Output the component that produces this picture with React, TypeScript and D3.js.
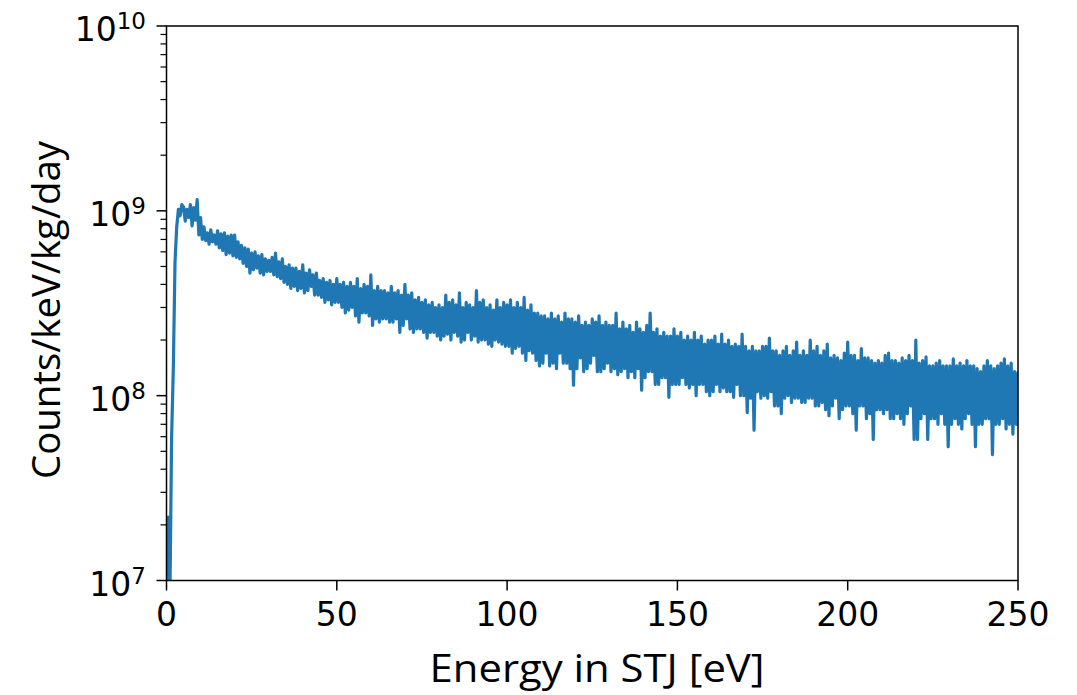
import React from "react";
import * as d3 from "d3";

// Rising edge of the spectrum (energy in eV, counts in units of 1e8)
const riseEnergy = [0, 0.5, 1, 1.5, 2, 2.5, 3, 3.5, 4, 4.5];
const riseCounts = [0.05, 0.22, 0.08, 0.6, 1.4, 5.3, 8.2, 10.2, 9.4, 10.8];

// Spectrum, bins at whole eV from 5 to 250 (upper side of the noisy band, units of 1e8)
const binStart = 5;
const binEnd = 250;
const upperCounts = [
  10.5, 10.2, 10.8, 10.4, 11.5,
  9.2, 8.2, 7.6, 7.9, 7.4, 7.8, 7.5, 7.6, 7.3, 7.4,
  7.4, 6.8, 6.5, 6.3, 6.2, 5.9, 6.0, 5.7, 5.8, 5.5,
  5.4, 5.6, 5.9, 5.3, 5.5, 5.0, 5.1, 4.9, 4.9, 4.7,
  5.1, 4.6, 4.8, 4.5, 4.6, 4.2, 4.3, 4.1, 4.2, 4.0,
  4.3, 4.0, 4.1, 3.9, 4.1, 3.9, 4.3, 3.8, 4.0, 3.9,
  4.5, 3.7, 3.9, 3.7, 3.7, 3.6, 3.9, 3.6, 3.7, 3.5,
  4.0, 3.5, 3.6, 3.3, 3.4, 3.2, 3.3, 3.1, 3.2, 3.0,
  3.1, 3.0, 3.5, 3.2, 3.3, 3.1, 3.6, 3.0, 3.2, 3.1,
  3.0, 3.7, 3.2, 3.3, 3.0, 3.1, 2.9, 3.3, 3.0, 3.2,
  3.1, 3.3, 3.0, 3.2, 3.0, 3.4, 2.9, 3.1, 2.8, 2.8,
  2.7, 2.7, 2.6, 2.8, 2.6, 2.7, 2.5, 2.8, 2.6, 2.6,
  2.5, 2.7, 2.4, 2.5, 2.4, 2.6, 2.5, 2.7, 2.4, 2.5,
  2.4, 2.4, 2.8, 2.3, 2.5, 2.3, 2.4, 2.2, 2.5, 2.3,
  2.2, 2.4, 2.8, 2.2, 2.3, 2.1, 2.2, 2.1, 2.1, 2.3,
  2.1, 2.2, 2.0, 2.1, 2.0, 2.2, 2.0, 2.1, 1.9, 2.0,
  2.0, 2.1, 1.9, 2.15, 1.9, 2.0, 1.85, 1.9, 1.85, 2.15,
  1.85, 1.75, 1.85, 1.75, 1.75, 1.85, 1.85, 2.05, 1.75, 1.75,
  1.65, 1.75, 1.85, 1.65, 1.75, 1.95, 1.65, 1.75, 1.65, 2.0,
  1.75, 1.85, 1.65, 1.75, 1.9, 1.6, 1.65, 1.6, 1.55, 1.7,
  1.95, 1.65, 1.65, 1.55, 1.8, 1.6, 1.6, 1.55, 1.5, 1.55,
  1.5, 1.65, 1.7, 1.55, 1.55, 1.5, 1.6, 1.55, 1.65, 1.55,
  2.0, 1.5, 1.55, 1.62, 1.45, 1.45, 1.5, 1.55, 1.45, 1.45,
  1.45, 1.58, 1.45, 1.5, 1.45, 1.55, 1.45, 1.45, 1.4, 1.35,
  1.45, 1.55, 1.45, 1.4, 1.45, 1.5, 1.58, 1.45, 1.5, 1.35, 1.35,
];
// Spectrum, bins at half eV from 5.5 to 249.5 (lower side of the noisy band, units of 1e8)
const lowerCounts = [
  8.8, 9.2, 8.3, 8.9, 7.4,
  7.0, 6.9, 6.6, 6.8, 6.6, 6.3, 6.1, 5.8, 5.9, 5.7,
  5.6, 5.5, 5.2, 5.0, 4.6, 4.8, 4.9, 4.6, 4.5, 4.7,
  4.7, 4.5, 4.4, 4.3, 4.1, 4.0, 3.8, 3.9, 3.7, 3.8,
  3.6, 3.7, 3.9, 3.5, 3.5, 3.4, 3.2, 3.3, 3.1, 3.2,
  3.2, 3.0, 2.8, 2.9, 3.0, 2.7, 2.5, 2.8, 2.8, 2.7,
  2.4, 2.6, 2.5, 2.6, 2.6, 2.5, 2.5, 2.6, 2.2, 2.4,
  2.6, 2.3, 2.2, 2.3, 2.3, 2.2, 2.05, 2.2, 2.2, 2.1,
  2.0, 2.1, 2.15, 2.0, 2.2, 2.1, 1.95, 2.0, 2.2, 2.0,
  2.1, 1.95, 2.0, 2.0, 1.9, 1.85, 2.0, 1.95, 1.9, 1.85,
  1.85, 1.7, 1.8, 1.85, 1.7, 1.55, 1.75, 1.7, 1.55, 1.45,
  1.5, 1.7, 1.45, 1.5, 1.4, 1.7, 1.5, 1.5, 1.4, 1.14,
  1.4, 1.6, 1.35, 1.4, 1.5, 1.65, 1.35, 1.35, 1.4, 1.5,
  1.35, 1.4, 1.3, 1.35, 1.4, 1.25, 1.35, 1.25, 1.4, 1.07,
  1.25, 1.35, 1.35, 1.15, 1.15, 1.25, 1.25, 0.98, 1.15, 1.15,
  1.15, 1.25, 1.15, 1.1, 1.15, 1.0, 1.15, 1.15, 1.05, 1.0,
  1.05, 1.15, 1.05, 1.1, 1.05, 1.05, 0.98, 1.15, 1.0, 1.0,
  0.81, 0.97, 0.65, 1.05, 0.97, 1.0, 0.97, 1.05, 0.88, 0.88,
  0.8, 0.97, 1.0, 0.92, 0.97, 0.97, 0.92, 0.92, 0.97, 0.97,
  0.88, 0.88, 0.92, 0.84, 0.78, 0.88, 0.97, 0.75, 0.84, 0.88,
  0.88, 0.8, 0.65, 0.88, 0.88, 0.75, 0.8, 0.58, 0.84, 0.84,
  0.8, 0.84, 0.75, 0.75, 0.8, 0.75, 0.7, 0.8, 0.88, 0.58,
  0.58, 0.75, 0.8, 0.58, 0.75, 0.75, 0.7, 0.8, 0.7, 0.53,
  0.7, 0.75, 0.7, 0.66, 0.75, 0.8, 0.7, 0.53, 0.7, 0.7,
  0.75, 0.75, 0.48, 0.7, 0.7, 0.75, 0.66, 0.7, 0.62, 0.7,
];
const countUnit = 1e8;

const xTicks = [0, 50, 100, 150, 200, 250];
const yTickExponents = [7, 8, 9, 10];
const xLabel = "Energy in STJ [eV]";
const yLabel = "Counts/keV/kg/day";

type Pt = { e: number; v: number };

export default function App() {
  const W = 1077;
  const H = 695;
  const left = 166.5;
  const right = 1018;
  const top = 26;
  const bottom = 580.5;

  const x = d3.scaleLinear().domain([0, 250]).range([left, right]);
  const y = d3.scaleLog().domain([1e7, 1e10]).range([bottom, top]);

  const data: Pt[] = riseEnergy.map((e, i) => ({ e, v: riseCounts[i] * countUnit }));
  d3.range(binStart, binEnd + 1).forEach((e, i) => {
    data.push({ e, v: upperCounts[i] * countUnit });
    if (i < lowerCounts.length) data.push({ e: e + 0.5, v: lowerCounts[i] * countUnit });
  });

  const line = d3
    .line<Pt>()
    .x((d) => x(d.e))
    .y((d) => y(d.v));

  const minorTicks: number[] = [];
  for (let p = 7; p < 10; p++) {
    for (let m = 2; m <= 9; m++) minorTicks.push(m * Math.pow(10, p));
  }

  const tickFont = "DejaVu Sans";
  const labelFont = "'Open Sans', 'Noto Sans', sans-serif";

  return (
    <svg
      width={W}
      height={H}
      style={{ position: "absolute", left: 0, top: 0, display: "block", background: "#fff" }}
    >
      <defs>
        <clipPath id="plotClip">
          <rect x={left} y={top} width={right - left} height={bottom - top} />
        </clipPath>
      </defs>
      <rect x={0} y={0} width={W} height={H} fill="#fff" />

      <path
        d={line(data) || ""}
        fill="none"
        stroke="#1f77b4"
        strokeWidth={3.2}
        strokeLinejoin="round"
        clipPath="url(#plotClip)"
      />

      {/* frame */}
      <rect
        x={left}
        y={top}
        width={right - left}
        height={bottom - top}
        fill="none"
        stroke="#000"
        strokeWidth={1.5}
      />

      {/* x ticks */}
      {xTicks.map((t) => (
        <g key={"xt" + t}>
          <line x1={x(t)} x2={x(t)} y1={bottom} y2={bottom + 10} stroke="#000" strokeWidth={1.5} />
          <text
            x={x(t)}
            y={626}
            textAnchor="middle"
            fontFamily={tickFont}
            fontSize={33}
            fill="#000"
          >
            {t}
          </text>
        </g>
      ))}

      {/* y minor ticks */}
      {minorTicks.map((t, i) => (
        <line key={"ym" + i} x1={left - 6} x2={left} y1={y(t)} y2={y(t)} stroke="#000" strokeWidth={1.2} />
      ))}

      {/* y major ticks */}
      {yTickExponents.map((p) => {
        const v = Math.pow(10, p);
        return (
          <g key={"yt" + p}>
            <line x1={left - 10} x2={left} y1={y(v)} y2={y(v)} stroke="#000" strokeWidth={1.5} />
            <text
              x={146}
              y={y(v) + 15}
              textAnchor="end"
              fontFamily={tickFont}
              fontSize={33}
              fill="#000"
            >
              <tspan>10</tspan>
              <tspan dy={-12} fontSize={23}>
                {p}
              </tspan>
            </text>
          </g>
        );
      })}

      {/* axis labels */}
      <text
        x={597}
        y={682}
        textAnchor="middle"
        fontFamily={labelFont}
        fontSize={39}
        fill="#000"
        textLength={335}
        lengthAdjust="spacingAndGlyphs"
      >
        {xLabel}
      </text>
      <text
        transform={`translate(60, 310) rotate(-90)`}
        textAnchor="middle"
        fontFamily={labelFont}
        fontSize={39}
        fill="#000"
        textLength={338}
        lengthAdjust="spacingAndGlyphs"
      >
        {yLabel}
      </text>
    </svg>
  );
}
